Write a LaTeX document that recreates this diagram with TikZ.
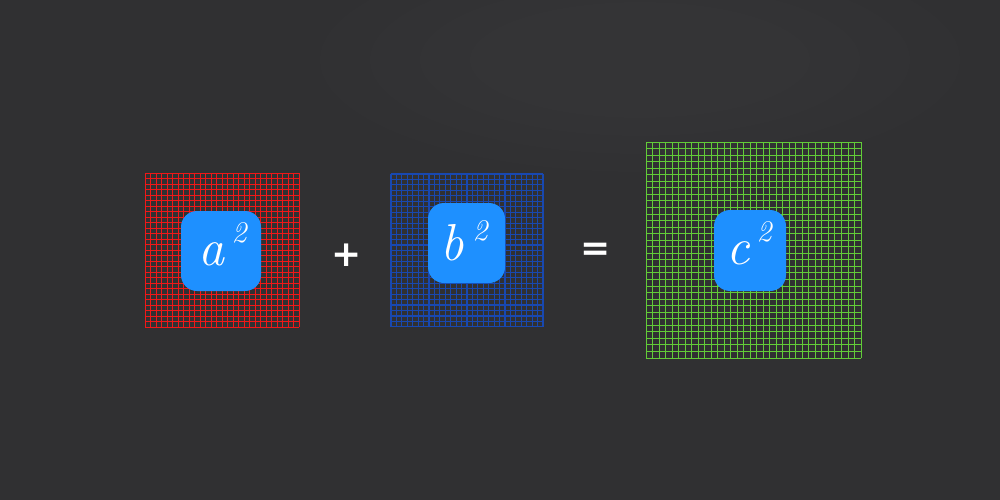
\documentclass[tikz,border=0pt]{standalone}
\usepackage{fontspec}
\newfontfamily\opfont{DejaVu Sans}
\definecolor{board}{HTML}{303032}
\definecolor{gridred}{HTML}{F01818}
\definecolor{gridblue}{HTML}{1848B0}
\definecolor{gridgreen}{HTML}{62CC38}
\definecolor{iconblue}{HTML}{1E90FF}
\tikzset{
  icon/.style={fill=iconblue, rounded corners=16pt, draw=none, inner sep=0pt},
  letter/.style={text=white, inner sep=0pt, font=\fontsize{52}{52}\selectfont\itshape},
  expo/.style={text=white, inner sep=0pt, font=\fontsize{30}{30}\selectfont\itshape},
  opsym/.style={text=white, inner sep=0pt, font=\fontsize{36}{36}\selectfont\opfont\bfseries},
}
\begin{document}
\begin{tikzpicture}[x=1pt,y=-1pt]
\fill[board] (0,0) rectangle (1000,500);
\useasboundingbox (0,0) rectangle (1000,500);
% faint chalk smudges
\foreach \k in {1,...,4} {
  \fill[white, opacity=0.006] (640,60) ellipse [x radius=120+50*\k, y radius=40+18*\k];
  \fill[white, opacity=0.005] (860,420) ellipse [x radius=80+35*\k, y radius=30+12*\k];
  \fill[white, opacity=0.004] (150,380) ellipse [x radius=80+30*\k, y radius=25+12*\k];
}
% red grid
\foreach \i in {0,...,28} {
  \draw[gridred, line width=0.9pt] (145+\i*5.5,173) -- (145+\i*5.5,327);
  \draw[gridred, line width=0.9pt] (145,173+\i*5.5) -- (299,173+\i*5.5);
}
% blue grid
\foreach \i in {0,...,28} {
  \draw[gridblue, line width=1.1pt] (391+\i*5.43,174) -- (391+\i*5.43,327);
  \draw[gridblue, line width=1.1pt] (391,174+\i*5.46) -- (543,174+\i*5.46);
}
% green grid
\foreach \i in {0,...,33} {
  \draw[gridgreen, line width=0.9pt] (646+\i*6.515,142) -- (646+\i*6.515,358);
  \draw[gridgreen, line width=0.9pt] (646,142+\i*6.545) -- (861,142+\i*6.545);
}
% icons
\node[icon, minimum width=80pt, minimum height=80pt] (ia) at (221,251) {};
\node[icon, minimum width=77pt, minimum height=80pt] (ib) at (466.5,243) {};
\node[icon, minimum width=72pt, minimum height=81pt] (ic) at (750,250.5) {};
% letters
\node[letter] (la) at (211,254) {a};
\node[expo] (ea) at (239,233) {2};
\node[letter] (lb) at (452,243) {b};
\node[expo] (eb) at (480,231) {2};
\node[letter] (lc) at (738,253) {c};
\node[expo] (ec) at (764,232) {2};
% operators
\node[opsym] (plus) at (347,255) {+};
\node[opsym] (eq) at (596,252) {=};
\end{tikzpicture}
\end{document}
